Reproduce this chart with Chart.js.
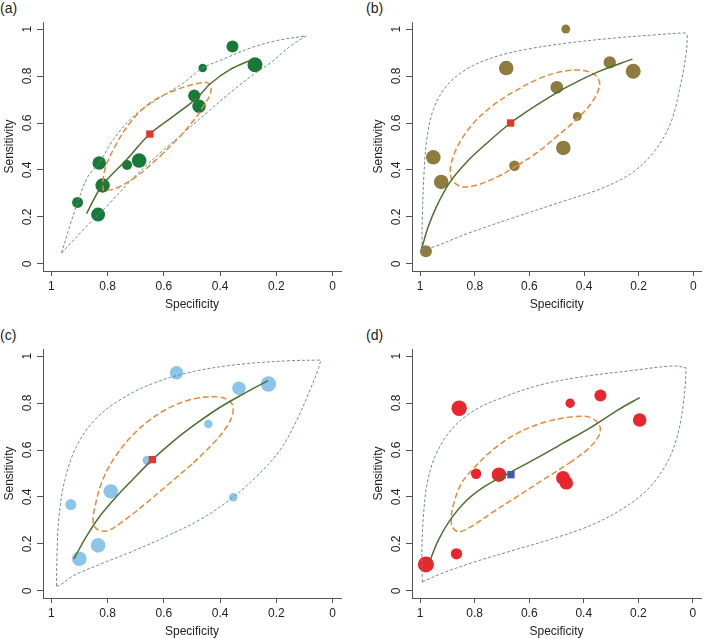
<!DOCTYPE html>
<html>
<head>
<meta charset="utf-8">
<script src="https://cdn.jsdelivr.net/npm/chart.js@4.4.1/dist/chart.umd.min.js"></script>
<style>
  body { margin: 0; background: #fff; width: 709px; height: 639px; position: relative; overflow: hidden;
         font-family: "Liberation Sans", Arial, sans-serif; }
  canvas { position: absolute; }
  .tag { position: absolute; font-size: 14px; color: #222; line-height: 16px; }
</style>
</head>
<body>
<div class="tag" style="left:0px;top:0px">(a)</div>
<div class="tag" style="left:366px;top:0px">(b)</div>
<div class="tag" style="left:0px;top:327px">(c)</div>
<div class="tag" style="left:366px;top:327px">(d)</div>
<canvas id="chartA" width="354" height="312" style="left:0px;top:0px"></canvas>
<canvas id="chartB" width="355" height="312" style="left:354px;top:0px"></canvas>
<canvas id="chartC" width="354" height="319" style="left:0px;top:320px"></canvas>
<canvas id="chartD" width="355" height="319" style="left:354px;top:320px"></canvas>
<script>
// axis ticks
const tickValues = [0, 0.2, 0.4, 0.6, 0.8, 1];
const tickLabels = ['0', '0.2', '0.4', '0.6', '0.8', '1'];

// ---- (a) ----
const aSpec = [0.356, 0.462, 0.276, 0.492, 0.475, 0.688, 0.731, 0.830, 0.818, 0.907, 0.834];
const aSens = [0.926, 0.834, 0.848, 0.716, 0.671, 0.440, 0.421, 0.430, 0.334, 0.262, 0.210];
const aWeight = [36, 18, 56, 38, 45, 53, 25, 46, 52, 30, 49];
const aSummary = [0.650, 0.553];
const aSroc = [[0.875,0.214],[0.822,0.330],[0.733,0.444],[0.650,0.553],[0.567,0.628],[0.483,0.706],[0.436,0.766],[0.365,0.827],[0.282,0.872]];
const aEllipse = [[0.614,0.458],[0.543,0.543],[0.483,0.628],[0.460,0.671],[0.436,0.720],[0.433,0.756],[0.454,0.773],[0.555,0.742],[0.650,0.685],[0.721,0.600],[0.774,0.500],[0.810,0.401],[0.816,0.316],[0.804,0.313],[0.768,0.323],[0.697,0.373],[0.614,0.458]];
const aPredUpper = [[0.964,0.047],[0.935,0.160],[0.907,0.262],[0.870,0.373],[0.830,0.430],[0.780,0.529],[0.709,0.628],[0.626,0.699],[0.531,0.770],[0.462,0.834],[0.388,0.872],[0.293,0.919],[0.198,0.951],[0.094,0.971]];
const aPredLower = [[0.964,0.047],[0.875,0.160],[0.792,0.260],[0.697,0.380],[0.614,0.472],[0.531,0.557],[0.448,0.643],[0.365,0.728],[0.282,0.806],[0.222,0.855],[0.151,0.926],[0.094,0.971]];

// ---- (b) ----
const bSpec = [0.467, 0.685, 0.306, 0.220, 0.500, 0.425, 0.476, 0.655, 0.952, 0.923, 0.979];
const bSens = [1.000, 0.834, 0.858, 0.820, 0.752, 0.628, 0.494, 0.418, 0.454, 0.349, 0.054];
const bWeight = [20, 53, 38, 56, 40, 20, 53, 28, 53, 53, 36];
const bSummary = [0.669, 0.600];
const bSroc = [[0.994,0.068],[0.970,0.160],[0.940,0.245],[0.893,0.345],[0.833,0.430],[0.762,0.508],[0.669,0.600],[0.571,0.678],[0.464,0.753],[0.345,0.820],[0.223,0.872]];
const bEllipse = [[0.643,0.420],[0.571,0.475],[0.500,0.543],[0.429,0.614],[0.369,0.692],[0.343,0.763],[0.357,0.801],[0.405,0.824],[0.476,0.820],[0.560,0.791],[0.655,0.735],[0.738,0.671],[0.810,0.593],[0.863,0.501],[0.889,0.416],[0.888,0.373],[0.881,0.352],[0.845,0.328],[0.786,0.338],[0.714,0.373],[0.643,0.420]];
const bPredUpper = [[0.994,0.061],[0.992,0.203],[0.986,0.387],[0.976,0.529],[0.952,0.657],[0.905,0.756],[0.833,0.827],[0.738,0.877],[0.619,0.912],[0.464,0.940],[0.286,0.962],[0.131,0.976],[0.030,0.983],[0.022,0.976]];
const bPredLower = [[0.994,0.061],[0.952,0.072],[0.821,0.132],[0.643,0.203],[0.476,0.267],[0.333,0.323],[0.226,0.387],[0.143,0.479],[0.083,0.600],[0.048,0.756],[0.026,0.898],[0.022,0.976]];

// ---- (c) ----
const cSpec = [0.555, 0.333, 0.228, 0.442, 0.659, 0.789, 0.931, 0.353, 0.834, 0.901];
const cSens = [0.929, 0.863, 0.881, 0.711, 0.556, 0.424, 0.368, 0.399, 0.194, 0.137];
const cWeight = [45, 45, 59, 18, 22, 52, 30, 18, 53, 53];
const cSummary = [0.641, 0.559];
const cSroc = [[0.920,0.137],[0.875,0.233],[0.828,0.318],[0.768,0.403],[0.709,0.477],[0.641,0.559],[0.567,0.637],[0.483,0.714],[0.400,0.782],[0.317,0.839],[0.230,0.895]];
const cEllipse = [[0.495,0.545],[0.424,0.629],[0.376,0.700],[0.355,0.757],[0.359,0.799],[0.400,0.825],[0.483,0.820],[0.567,0.788],[0.650,0.728],[0.721,0.651],[0.780,0.559],[0.822,0.460],[0.846,0.354],[0.852,0.297],[0.840,0.265],[0.804,0.255],[0.745,0.297],[0.662,0.375],[0.578,0.460],[0.495,0.545]];
const cPredUpper = [[0.982,0.021],[0.980,0.163],[0.973,0.318],[0.952,0.474],[0.911,0.615],[0.846,0.728],[0.757,0.813],[0.638,0.884],[0.495,0.934],[0.329,0.965],[0.151,0.980],[0.042,0.983]];
const cPredLower = [[0.982,0.021],[0.970,0.024],[0.923,0.064],[0.828,0.113],[0.709,0.170],[0.590,0.233],[0.471,0.304],[0.365,0.389],[0.270,0.488],[0.186,0.601],[0.127,0.728],[0.080,0.856],[0.050,0.948],[0.042,0.983]];

// ---- (d) ----
const dSpec = [0.857, 0.450, 0.339, 0.195, 0.795, 0.711, 0.476, 0.464, 0.867, 0.979];
const dSens = [0.778, 0.799, 0.832, 0.728, 0.499, 0.495, 0.481, 0.460, 0.158, 0.113];
const dWeight = [59, 22, 36, 46, 27, 53, 49, 45, 32, 64];
const dSummary = [0.667, 0.495];
const dSroc = [[0.967,0.120],[0.935,0.212],[0.893,0.297],[0.833,0.382],[0.762,0.446],[0.679,0.499],[0.583,0.559],[0.476,0.629],[0.369,0.700],[0.274,0.771],[0.195,0.823]];
const dEllipse = [[0.452,0.545],[0.381,0.608],[0.343,0.665],[0.343,0.707],[0.381,0.740],[0.452,0.740],[0.548,0.717],[0.643,0.672],[0.726,0.608],[0.798,0.530],[0.851,0.453],[0.881,0.354],[0.886,0.297],[0.881,0.269],[0.857,0.252],[0.810,0.276],[0.738,0.332],[0.643,0.403],[0.548,0.474],[0.452,0.545]];
const dPredUpper = [[0.992,0.038],[0.994,0.163],[0.989,0.304],[0.974,0.460],[0.940,0.587],[0.881,0.693],[0.798,0.771],[0.690,0.827],[0.560,0.877],[0.405,0.912],[0.226,0.938],[0.071,0.958],[0.025,0.950]];
const dPredLower = [[0.992,0.038],[0.929,0.071],[0.810,0.120],[0.667,0.170],[0.524,0.219],[0.381,0.276],[0.262,0.347],[0.167,0.431],[0.095,0.545],[0.054,0.672],[0.033,0.813],[0.026,0.912],[0.025,0.950]];

const axisColor = '#555';
const textColor = '#222';
const font = { family: '"Liberation Sans", Arial, sans-serif', size: 12 };

function toXY(pairs) {
    return pairs.map(p => ({ x: p[0], y: p[1] }));
}

function curve(pairs, color, width, dash, order) {
    return {
        data: toXY(pairs),
        showLine: true,
        borderColor: color,
        borderWidth: width,
        borderDash: dash,
        pointRadius: 0,
        tension: 0.35,
        fill: false,
        clip: false,
        order: order
    };
}

function makePanel(id, spec, sens, weight, summary, sroc, ellipse, predUpper, predLower, dotColor, sumColor, padLeft, padRight, padTop) {
    const predColor = '#6f8c8c';
    const ctx = document.getElementById(id).getContext('2d');
    return new Chart(ctx, {
        type: 'scatter',
        data: {
            datasets: [
                {
                    type: 'bubble',
                    data: spec.map((x, i) => ({ x: x, y: sens[i], r: Math.sqrt(weight[i]) })),
                    backgroundColor: dotColor,
                    borderWidth: 0,
                    clip: false,
                    order: 6
                },
                curve(predUpper, predColor, 1, [3, 2], 5),
                curve(predLower, predColor, 1, [3, 2], 5),
                curve(ellipse, '#e8883c', 1.5, [6, 3], 3),
                curve(sroc, '#4a7030', 1.5, [], 2),
                {
                    data: [{ x: summary[0], y: summary[1] }],
                    pointStyle: 'rect',
                    pointRadius: 5.2,
                    backgroundColor: sumColor,
                    borderWidth: 0,
                    clip: false,
                    order: 1
                }
            ]
        },
        options: {
            responsive: false,
            animation: false,
            devicePixelRatio: 1,
            events: [],
            layout: { padding: { left: padLeft, right: padRight, top: padTop, bottom: 0 } },
            plugins: { legend: { display: false }, tooltip: { enabled: false } },
            scales: {
                x: {
                    type: 'linear',
                    reverse: true,
                    min: -0.03,
                    max: 1.03,
                    afterBuildTicks: s => { s.ticks = tickValues.map(v => ({ value: v })); },
                    afterFit: s => { s.height = 41; },
                    ticks: {
                        callback: v => tickLabels[tickValues.indexOf(v)],
                        color: textColor, font: font, padding: 3,
                        minRotation: 0, maxRotation: 0
                    },
                    grid: { drawOnChartArea: false, tickLength: 5, color: axisColor },
                    border: { color: axisColor, width: 1 },
                    title: { display: true, text: 'Specificity', color: textColor, font: font, padding: 0 }
                },
                y: {
                    type: 'linear',
                    min: -0.03,
                    max: 1.03,
                    afterBuildTicks: s => { s.ticks = tickValues.map(v => ({ value: v })); },
                    afterFit: s => { s.width = 43; },
                    ticks: {
                        callback: v => tickLabels[tickValues.indexOf(v)],
                        color: textColor, font: font, padding: 1,
                        minRotation: 90, maxRotation: 90, crossAlign: 'center'
                    },
                    grid: { drawOnChartArea: false, tickLength: 6, color: axisColor },
                    border: { color: axisColor, width: 1 },
                    title: { display: true, text: 'Sensitivity', color: textColor, font: font, padding: { top: 2, bottom: 0 } }
                }
            }
        }
    });
}

makePanel('chartA', aSpec, aSens, aWeight, aSummary, aSroc, aEllipse, aPredUpper, aPredLower, '#187a38', '#e0392b', 0, 13, 22);
makePanel('chartB', bSpec, bSens, bWeight, bSummary, bSroc, bEllipse, bPredUpper, bPredLower, '#8e7b3d', '#e0392b', 15, 0, 22);
makePanel('chartC', cSpec, cSens, cWeight, cSummary, cSroc, cEllipse, cPredUpper, cPredLower, '#8cc4ea', '#e0392b', 0, 13, 29);
makePanel('chartD', dSpec, dSens, dWeight, dSummary, dSroc, dEllipse, dPredUpper, dPredLower, '#e8262b', '#3b5ca5', 15, 0, 29);
</script>
</body>
</html>
